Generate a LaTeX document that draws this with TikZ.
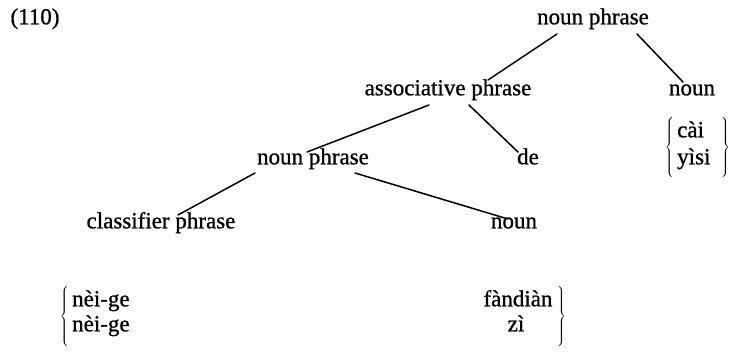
\documentclass[tikz,border=0pt]{standalone}
\usepackage{fontspec}
\setmainfont[FakeBold=0.9]{Liberation Serif}
\begin{document}
\begin{tikzpicture}[x=1pt,y=-1pt,
  every node/.style={font=\fontsize{23}{27}\selectfont, inner sep=0pt, anchor=mid},
  branch/.style={line width=1.5pt, line cap=round},
  brace/.style={anchor=center}]
\useasboundingbox (0,0) rectangle (734,354);

% example number
\node (ex) at (35,22) {(110)};

% tree labels
\node (np0) at (593,22) {noun phrase};
\node (ap)  at (448,93) {associative phrase};
\node (n0)  at (692,93) {noun};
\node (np1) at (313,162) {noun phrase};
\node (de)  at (528,162) {de};
\node (cp)  at (161,226) {classifier phrase};
\node (n1)  at (514,226) {noun};

% branches
\draw[branch] ([shift={(-36,12)}]np0.mid) -- ([shift={(40,-13)}]ap.mid);
\draw[branch] ([shift={(44,12)}]np0.mid)  -- ([shift={(-9,-11)}]n0.mid);
\draw[branch] ([shift={(-19,12)}]ap.mid)  -- ([shift={(-6,-10)}]np1.mid);
\draw[branch] ([shift={(21,12)}]ap.mid)   -- ([shift={(-10,-10)}]de.mid);
\draw[branch] ([shift={(-58,11)}]np1.mid) -- ([shift={(17,-11)}]cp.mid);
\draw[branch] ([shift={(42,11)}]np1.mid)  -- ([shift={(-6,-7)}]n1.mid);

% alternatives for the head noun
\node[anchor=mid west] (cai)  at (677,135) {cài};
\node[anchor=mid west] (yisi) at (677,162) {yìsi};
\node[brace] (lb0) at (670,148.5) {$\left\{\vrule height 25pt depth 25pt width 0pt\right.$};
\node[brace] (rb0) at (725,148.5) {$\left.\vrule height 25pt depth 25pt width 0pt\right\}$};

% alternatives for classifier phrase and noun
\node[anchor=mid west] (cl1) at (72,304) {nèi-ge};
\node[anchor=mid west] (cl2) at (72,329) {nèi-ge};
\node (fd) at (518,304) {fàndiàn};
\node (zi) at (516,329) {zì};
\node[brace] (lb1) at (65,316.5) {$\left\{\vrule height 24pt depth 24pt width 0pt\right.$};
\node[brace] (rb1) at (561,316.5) {$\left.\vrule height 24pt depth 24pt width 0pt\right\}$};
\end{tikzpicture}
\end{document}
